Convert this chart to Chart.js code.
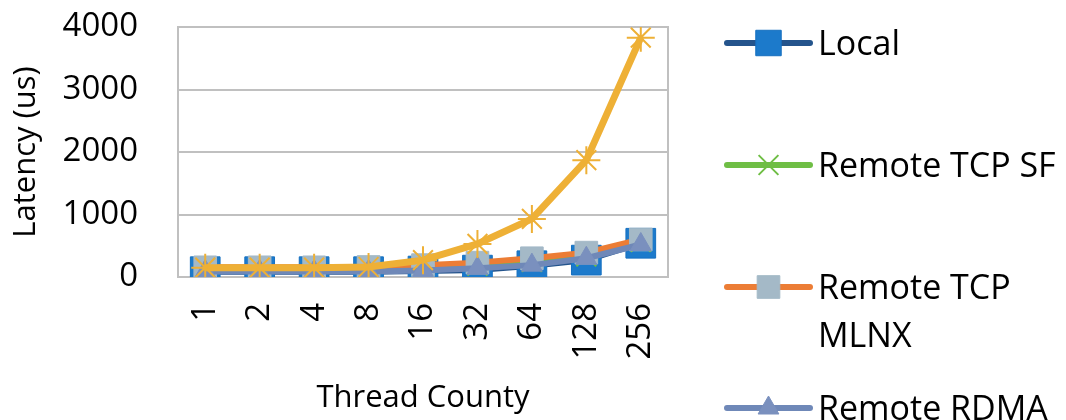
<!DOCTYPE html>
<html>
<head>
<meta charset="utf-8">
<script src="https://cdn.jsdelivr.net/npm/chart.js@4/dist/chart.umd.min.js"></script>
<style>
  html, body { margin: 0; padding: 0; background: #ffffff; }
  #wrap { width: 1066px; height: 420px; }
</style>
</head>
<body>
<div id="wrap"><canvas id="c" width="1066" height="420"></canvas></div>
<script>
// Thread counts on the x axis
const threadCounts = ['1', '2', '4', '8', '16', '32', '64', '128', '256'];

// Latency in microseconds per configuration
const localLatency      = [85, 85, 85, 85, 95, 110, 180, 270, 540];
const remoteTcpSf       = [130, 130, 130, 135, 150, 180, 240, 330, 560];
const remoteTcpMlnx     = [155, 155, 155, 160, 190, 230, 300, 390, 600];
const remoteRdma        = [90, 90, 90, 90, 105, 140, 190, 300, 520];
const series5           = [150, 150, 150, 160, 270, 530, 930, 1870, 3830];

// y axis range
const yMin = 0, yMax = 4000, yStep = 1000;

const FONT = "'Open Sans', 'DejaVu Sans', sans-serif";

// Legend entries drawn at the right-hand side (label lines + baselines)
const legendRows = [
  { idx: 0, lines: ['Local'], baseline: 55 },
  { idx: 1, lines: ['Remote TCP SF'], baseline: 177 },
  { idx: 2, lines: ['Remote TCP', 'MLNX'], baseline: 299 },
  { idx: 3, lines: ['Remote RDMA'], baseline: 420 }
];

const plotBox = {
  id: 'plotBox',
  beforeDatasetsDraw(chart) {
    const { ctx, chartArea: a } = chart;
    ctx.save();
    ctx.strokeStyle = '#c0c0c0';
    ctx.lineWidth = 2;
    ctx.strokeRect(a.left, a.top, a.right - a.left, a.bottom - a.top);
    ctx.restore();
  }
};

const sideLegend = {
  id: 'sideLegend',
  afterDraw(chart) {
    const ctx = chart.ctx;
    const x0 = 727, x1 = 810, mx = 768.5, tx = 818;
    ctx.save();
    legendRows.forEach(row => {
      const ds = chart.data.datasets[row.idx];
      const cy = row.baseline - 12;
      ctx.strokeStyle = ds.borderColor;
      ctx.lineWidth = 6;
      ctx.lineCap = 'round';
      ctx.beginPath();
      ctx.moveTo(x0, cy);
      ctx.lineTo(x1, cy);
      ctx.stroke();
      ctx.fillStyle = ds.pointBackgroundColor;
      ctx.strokeStyle = ds.pointBorderColor;
      ctx.lineWidth = ds.legendPointBorder;
      ctx.lineCap = 'butt';
      Chart.helpers.drawPoint(ctx, {
        pointStyle: ds.pointStyle,
        rotation: 0,
        radius: ds.legendRadius,
        borderWidth: ds.legendPointBorder
      }, mx, cy);
      ctx.fillStyle = '#000000';
      ctx.font = '34px ' + FONT;
      ctx.textAlign = 'left';
      ctx.textBaseline = 'alphabetic';
      row.lines.forEach((t, i) => ctx.fillText(t, tx, row.baseline + i * 48));
    });
    ctx.restore();
  }
};

new Chart(document.getElementById('c'), {
  type: 'line',
  data: {
    labels: threadCounts,
    datasets: [
      {
        label: 'Local', data: localLatency, order: 5,
        borderColor: '#24548c', borderWidth: 6,
        pointStyle: 'rect', pointRadius: 21, pointBackgroundColor: '#1c7acb',
        pointBorderColor: '#1670c0', pointBorderWidth: 1,
        legendRadius: 18, legendPointBorder: 1
      },
      {
        label: 'Remote TCP SF', data: remoteTcpSf, order: 4,
        borderColor: '#6fbe45', borderWidth: 6,
        pointStyle: 'crossRot', pointRadius: 14, pointBackgroundColor: '#6fbe45',
        pointBorderColor: '#6fbe45', pointBorderWidth: 2,
        legendRadius: 14, legendPointBorder: 2
      },
      {
        label: 'Remote TCP MLNX', data: remoteTcpMlnx, order: 3,
        borderColor: '#ec7d35', borderWidth: 6,
        pointStyle: 'rect', pointRadius: 16, pointBackgroundColor: '#a4b9c7',
        pointBorderColor: '#a4b9c7', pointBorderWidth: 1,
        legendRadius: 16, legendPointBorder: 1
      },
      {
        label: 'Remote RDMA', data: remoteRdma, order: 2,
        borderColor: '#6f88b8', borderWidth: 6,
        pointStyle: 'triangle', pointRadius: 12, pointBackgroundColor: '#7a90be',
        pointBorderColor: '#7a90be', pointBorderWidth: 1,
        legendRadius: 12, legendPointBorder: 1
      },
      {
        label: 'Series 5', data: series5, order: 1,
        borderColor: '#eeb036', borderWidth: 7,
        pointStyle: 'star', pointRadius: 14, pointBackgroundColor: '#eeb036',
        pointBorderColor: '#eeb036', pointBorderWidth: 2
      }
    ]
  },
  options: {
    responsive: false,
    animation: false,
    events: [],
    layout: { padding: { top: 27, right: 398, left: 0, bottom: 0 } },
    elements: { line: { tension: 0 } },
    plugins: {
      legend: { display: false },
      tooltip: { enabled: false }
    },
    scales: {
      x: {
        offset: true,
        grid: { display: false, drawTicks: false },
        border: { display: false },
        ticks: {
          autoSkip: false, minRotation: 90, maxRotation: 90,
          padding: 26, color: '#000000',
          font: { family: FONT, size: 33 }
        },
        title: {
          display: true, text: 'Thread County', color: '#000000',
          font: { family: FONT, size: 31 }, padding: { top: 0, bottom: 3 }
        },
        afterFit(scale) {
          scale.height = 143;
          scale.paddingLeft = 0;
          scale.paddingRight = 0;
        }
      },
      y: {
        min: yMin, max: yMax,
        grid: { color: '#c0c0c0', lineWidth: 2, drawTicks: false },
        border: { display: false },
        ticks: {
          stepSize: yStep, padding: 40, color: '#000000',
          font: { family: FONT, size: 33 },
          callback: v => String(v)
        },
        title: {
          display: true, text: 'Latency (us)', color: '#000000',
          font: { family: FONT, size: 31 }, padding: { top: 8, bottom: 0 }
        },
        afterFit(scale) {
          scale.width = 178;
          scale.paddingTop = 0;
          scale.paddingBottom = 0;
        }
      }
    }
  },
  plugins: [plotBox, sideLegend]
});
</script>
</body>
</html>
